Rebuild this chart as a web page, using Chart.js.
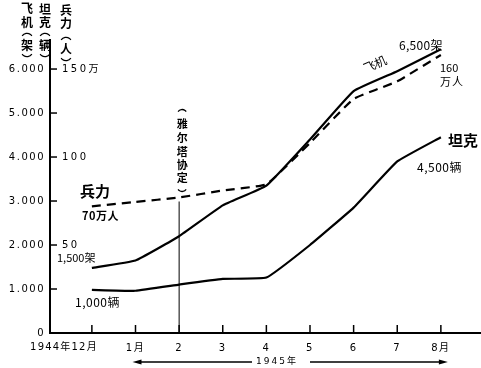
<!DOCTYPE html>
<html><head><meta charset="utf-8">
<script src="https://cdn.jsdelivr.net/npm/chart.js@4"></script>
<style>html,body{margin:0;padding:0;background:#fff}#wrap{width:481px;height:368px}</style>
</head><body>
<div id="wrap"><canvas id="c"></canvas></div>
<script>
// ---- data ----
const months = ['1944年12月','1月','2','3','4','5','6','7','8月'];
const planes = [1480,1650,2200,2900,3350,4400,5500,5950,6450];   // 架
const tanks  = [980,960,1100,1230,1260,2000,2850,3900,4450];     // 辆
const troops = [72,74.5,77,81,84.5,108,133,143,158];             // 万人
const yTickValues = [0,1000,2000,3000,4000,5000,6000];
const yTickLabels = ['0','1.000','2.000','3.000','4.000','5.000','6.000'];
const troopTickValues = [50,100,150];
const troopTickLabels = ['50','100','150万'];
const yaltaIndex = 2;

const CJK = "'Noto Sans CJK SC', 'DejaVu Sans', sans-serif";
const NUM = "'DejaVu Sans', 'Noto Sans CJK SC', sans-serif";

function txt(ctx, s, x, y, font, align, spacing) {
  ctx.save();
  ctx.font = font; ctx.textAlign = align || 'left'; ctx.textBaseline = 'middle';
  ctx.letterSpacing = (spacing || 0) + 'px';
  ctx.fillStyle = '#000';
  ctx.fillText(s, x, y);
  ctx.restore();
}
// vertical bracket: up=true draws a cap opening downward (top), else opening upward (bottom)
function bracket(ctx, x, y, up, w) {
  ctx.save();
  ctx.strokeStyle = '#000'; ctx.lineWidth = 1.3; ctx.letterSpacing = '0px';
  ctx.beginPath();
  if (up) ctx.arc(x, y + w * 0.9, w, Math.PI * 1.2, Math.PI * 1.8);
  else ctx.arc(x, y - w * 0.9, w, Math.PI * 0.2, Math.PI * 0.8);
  ctx.stroke();
  ctx.restore();
}
function vcol(ctx, x, items, font, w) {
  items.forEach(it => {
    if (it[0] === '(') bracket(ctx, x, it[1], true, w);
    else if (it[0] === ')') bracket(ctx, x, it[1], false, w);
    else txt(ctx, it[0], x, it[1], font, 'center', 0);
  });
}

const deco = {
  id: 'deco',
  beforeDraw(chart) { chart.ctx.letterSpacing = '1.5px'; },
  afterDraw(chart) {
    const ctx = chart.ctx, xs = chart.scales.x, ys = chart.scales.y, y2 = chart.scales.y2;
    const L = chart.chartArea.left, B = chart.chartArea.bottom;
    ctx.save();
    ctx.letterSpacing = '0px';
    ctx.strokeStyle = '#000'; ctx.lineWidth = 1.5;
    // y tick marks (inside, to the right of axis)
    yTickValues.forEach(v => { const p = ys.getPixelForValue(v); ctx.beginPath(); ctx.moveTo(L, p); ctx.lineTo(L + 7, p); ctx.stroke(); });
    // x tick marks (upward)
    months.forEach((m, i) => { const p = xs.getPixelForValue(i); ctx.beginPath(); ctx.moveTo(p, B); ctx.lineTo(p, B - 8); ctx.stroke(); });
    // Yalta vertical line
    const xp = xs.getPixelForValue(yaltaIndex);
    ctx.lineWidth = 1;
    ctx.beginPath(); ctx.moveTo(xp, y2.getPixelForValue(troops[yaltaIndex]) + 4); ctx.lineTo(xp, B); ctx.stroke();
    ctx.restore();

    // right-hand troop labels
    troopTickValues.forEach((v, i) => txt(ctx, troopTickLabels[i], L + 12, y2.getPixelForValue(v), '10px ' + NUM, 'left', 2.5));
    // first x label
    txt(ctx, months[0], xs.getPixelForValue(0) + 6, 347, '10px ' + NUM, 'right', 1.2);

    // axis titles (vertical)
    const tf = 'bold 12px ' + CJK;
    vcol(ctx, 27, [['飞', 8], ['机', 22], ['(', 34], ['架', 45], [')', 56]], tf, 6);
    vcol(ctx, 45, [['坦', 9], ['克', 22], ['(', 34], ['辆', 45], [')', 56]], tf, 6);
    vcol(ctx, 66, [['兵', 10], ['力', 23], ['(', 38], ['人', 49], [')', 60]], tf, 6);

    // Yalta label
    vcol(ctx, xp + 3, [['(', 110], ['雅', 124], ['尔', 138], ['塔', 152], ['协', 165], ['定', 178], [')', 191]], 'bold 11px ' + CJK, 5);

    // series labels
    txt(ctx, '兵力', 80, 191, 'bold 15px ' + CJK);
    txt(ctx, '70万人', 82, 216, 'bold 11px ' + CJK, 'left', 0.5);
    txt(ctx, '1,500架', 57, 258, '11px ' + CJK, 'left', 0);
    txt(ctx, '1,000辆', 75, 302, '12px ' + CJK, 'left', 0.5);
    txt(ctx, '6,500架', 399, 45, '12px ' + CJK, 'left', 0.3);
    txt(ctx, '160', 440, 68, '11px ' + CJK, 'left', 0);
    txt(ctx, '万人', 440, 82, '11px ' + CJK, 'left', 1);
    txt(ctx, '坦克', 448, 140, 'bold 15px ' + CJK, 'left', 0);
    txt(ctx, '4,500辆', 417, 167, '12px ' + CJK, 'left', 0.5);
    ctx.save();
    ctx.translate(375, 64); ctx.rotate(-0.42);
    txt(ctx, '飞机', 0, 0, '12px ' + CJK, 'center', 0);
    ctx.restore();

    // 1945年 arrow
    const ay = 362, ax0 = xs.getPixelForValue(1) - 3, ax1 = xs.getPixelForValue(8) + 7;
    ctx.save();
    ctx.strokeStyle = '#000'; ctx.fillStyle = '#000'; ctx.lineWidth = 1.3; ctx.letterSpacing = '0px';
    ctx.beginPath(); ctx.moveTo(ax0 + 6, ay); ctx.lineTo(252, ay); ctx.moveTo(310, ay); ctx.lineTo(ax1 - 6, ay); ctx.stroke();
    ctx.beginPath(); ctx.moveTo(ax0, ay); ctx.lineTo(ax0 + 9, ay - 2.5); ctx.lineTo(ax0 + 9, ay + 2.5); ctx.closePath(); ctx.fill();
    ctx.beginPath(); ctx.moveTo(ax1, ay); ctx.lineTo(ax1 - 9, ay - 2.5); ctx.lineTo(ax1 - 9, ay + 2.5); ctx.closePath(); ctx.fill();
    ctx.restore();
    txt(ctx, '1945年', 256, ay, '9px ' + NUM, 'left', 2);
  }
};

const pts = arr => arr.map((v, i) => ({x: i, y: v}));

new Chart(document.getElementById('c'), {
  type: 'line',
  data: {
    datasets: [
      {label: '飞机', data: pts(planes), yAxisID: 'y', borderColor: '#000', borderWidth: 2.2, pointRadius: 0, tension: 0.1, fill: false},
      {label: '坦克', data: pts(tanks), yAxisID: 'y', borderColor: '#000', borderWidth: 2.2, pointRadius: 0, tension: 0.1, fill: false},
      {label: '兵力', data: pts(troops), yAxisID: 'y2', borderColor: '#000', borderWidth: 2.2, borderDash: [9, 6], pointRadius: 0, tension: 0.1, fill: false}
    ]
  },
  options: {
    responsive: true, maintainAspectRatio: false, animation: false,
    devicePixelRatio: 1,
    layout: {padding: {top: 40, right: 0, left: 0, bottom: 0}},
    plugins: {legend: {display: false}, tooltip: {enabled: false}},
    scales: {
      x: {
        type: 'linear', min: -0.96, max: 8.92,
        afterBuildTicks: s => { s.ticks = months.map((m, i) => ({value: i})); },
        afterFit: s => { s.height = 35; },
        grid: {display: false, drawTicks: false},
        border: {display: true, color: '#000', width: 2},
        ticks: {padding: 9, color: '#000', font: {family: NUM, size: 10}, maxRotation: 0, autoSkip: false,
                callback: v => (v === 0 ? '' : months[v])}
      },
      y: {
        min: 0, max: 6660,
        afterBuildTicks: s => { s.ticks = yTickValues.map(v => ({value: v})); },
        afterFit: s => { s.width = 50; },
        grid: {display: false, drawTicks: false},
        border: {display: true, color: '#000', width: 2},
        ticks: {padding: 5, color: '#000', font: {family: NUM, size: 10},
                callback: v => yTickLabels[yTickValues.indexOf(v)]}
      },
      y2: {display: false, min: 0, max: 166.5}
    }
  },
  plugins: [deco]
});
</script>
</body></html>
